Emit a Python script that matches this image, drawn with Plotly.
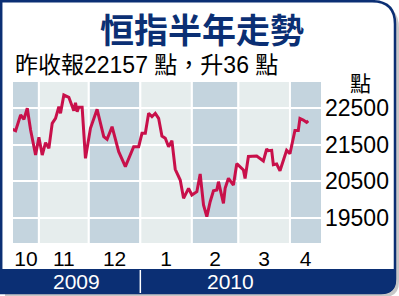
import plotly.graph_objects as go
import pandas as pd

# ---------------- data ----------------
dates = [
    "2009-10-16", "2009-10-18", "2009-10-21", "2009-10-23", "2009-10-25", "2009-10-27", "2009-10-30",
    "2009-11-01", "2009-11-03", "2009-11-05", "2009-11-07", "2009-11-09", "2009-11-11", "2009-11-13",
    "2009-11-14", "2009-11-16", "2009-11-19", "2009-11-22", "2009-11-23", "2009-11-24", "2009-11-25",
    "2009-11-27", "2009-11-29", "2009-12-02", "2009-12-06", "2009-12-10", "2009-12-12", "2009-12-15",
    "2009-12-19", "2009-12-23", "2009-12-28", "2009-12-31", "2010-01-02", "2010-01-04", "2010-01-06",
    "2010-01-08", "2010-01-10", "2010-01-12", "2010-01-14", "2010-01-16", "2010-01-18", "2010-01-20",
    "2010-01-22", "2010-01-25", "2010-01-27", "2010-01-30", "2010-02-01", "2010-02-04", "2010-02-06",
    "2010-02-08", "2010-02-10", "2010-02-12", "2010-02-14", "2010-02-16", "2010-02-17", "2010-02-20",
    "2010-02-21", "2010-02-23", "2010-02-26", "2010-02-28", "2010-03-04", "2010-03-05", "2010-03-07",
    "2010-03-12", "2010-03-16", "2010-03-18", "2010-03-19", "2010-03-21", "2010-03-22", "2010-03-24",
    "2010-03-26", "2010-03-30", "2010-04-01", "2010-04-04", "2010-04-06", "2010-04-07", "2010-04-09",
    "2010-04-11", "2010-04-12",
]
hsi = [
    21925, 21886, 22316, 22199, 22500, 21905, 21220,
    21705, 21220, 21557, 21404, 22089, 22226, 22544,
    22363, 22864, 22801, 22434, 22653, 22407, 22527,
    22527, 21130, 21952, 22473, 21722, 21651, 21996,
    21311, 20900, 21448, 21448, 21815, 21815, 22363,
    22270, 22363, 22226, 21741, 21678, 21448, 21612,
    20829, 20535, 20034, 20308, 20124, 20215, 20700,
    19850, 19530, 19941, 20242, 20262, 20489, 19897,
    20308, 20582, 20398, 20982, 20809, 20577, 21179,
    21193, 21056, 21385, 21338, 21349, 20955, 20974,
    20787, 21349, 21259, 21892, 21892, 22221, 22179,
    22116, 22157,
]
month_starts = ["2009-10-01", "2009-11-01", "2009-12-01", "2010-01-01",
                "2010-02-01", "2010-03-01", "2010-04-01", "2010-05-01"]
month_labels = ["10", "11", "12", "1", "2", "3", "4"]
year_labels = ["2009", "2010"]
year_starts = ["2009-10-01", "2010-01-01", "2011-01-01"]
y_ticks = [19500, 20500, 21500, 22500]
title_text = "恒指半年走勢"
subtitle_text = "昨收報22157 點，升36 點"
unit_text = "點"

# ---------------- geometry helpers ----------------
W, H = 399, 296
ML, MR, MT, MB = 13, 78, 81, 52
PW, PH = W - ML - MR, H - MT - MB
x_range = [pd.Timestamp("2009-10-16 10:00"), pd.Timestamp("2010-04-19 16:00")]
y_range = [18782, 23248]


def X(px):
    return (px - ML) / PW


def Y(py):
    return (H - MB - py) / PH


NAVY = "#0b2f74"
DARK = "#c4d4de"
LIGHT = "#e6eded"
LINE = "#c8104a"
FONT = "Liberation Sans, Arial, Noto Sans CJK TC, sans-serif"
CJK = "Noto Sans CJK TC, sans-serif"

fig = go.Figure()
fig.add_trace(go.Scatter(x=pd.to_datetime(dates), y=hsi, mode="lines",
                         line=dict(color=LINE, width=3), hoverinfo="skip"))

shapes = []

# shadow
shadow = (f"M{X(5)},{Y(5)} L{X(376)},{Y(5)} Q{X(399)},{Y(5)} {X(399)},{Y(28)} "
          f"L{X(399)},{Y(282)} Q{X(399)},{Y(297)} {X(384)},{Y(297)} L{X(5)},{Y(297)} Z")
shapes.append(dict(type="path", xref="paper", yref="paper", path=shadow,
                   fillcolor="rgba(0,0,0,0.22)", line=dict(width=0), layer="below"))
frame = (f"M{X(1.2)},{Y(1.2)} L{X(372)},{Y(1.2)} Q{X(395)},{Y(1.2)} {X(395)},{Y(24)} "
         f"L{X(395)},{Y(279)} Q{X(395)},{Y(293)} {X(381)},{Y(293)} L{X(1.2)},{Y(293)} Z")
shapes.append(dict(type="path", xref="paper", yref="paper", path=frame,
                   fillcolor="white", line=dict(width=2.5, color=NAVY), layer="below"))
bar = (f"M{X(0)},{Y(269)} L{X(396)},{Y(269)} L{X(396)},{Y(279)} "
       f"Q{X(396)},{Y(294)} {X(381)},{Y(294)} L{X(0)},{Y(294)} Z")
shapes.append(dict(type="path", xref="paper", yref="paper", path=bar,
                   fillcolor=NAVY, line=dict(width=0), layer="below"))

# month bands
ms = pd.to_datetime(month_starts)
for i in range(len(ms) - 1):
    shapes.append(dict(type="rect", xref="x", yref="paper", x0=ms[i], x1=ms[i + 1], y0=0, y1=1,
                       fillcolor=DARK if i % 2 == 0 else LIGHT,
                       line=dict(color="white", width=2), layer="below"))

# year divider
ys = pd.to_datetime(year_starts)
shapes.append(dict(type="line", xref="x", yref="paper", x0=ys[1], x1=ys[1], y0=Y(270), y1=Y(293),
                   line=dict(color="white", width=1.5), layer="above"))

# tick positions (midpoints of visible month spans)
mids = []
for i in range(len(ms) - 1):
    a = max(ms[i], x_range[0])
    b = min(ms[i + 1], x_range[1])
    mids.append(a + (b - a) / 2)

annotations = []
for i, lab in enumerate(year_labels):
    a = max(ys[i], x_range[0])
    b = min(ys[i + 1], x_range[1])
    annotations.append(dict(x=a + (b - a) / 2, y=Y(281.5), xref="x", yref="paper", text=lab,
                            showarrow=False, font=dict(family=FONT, size=21, color="white"),
                            xanchor="center", yanchor="middle"))

annotations.append(dict(x=X(202), y=Y(28), xref="paper", yref="paper", text=f"<b>{title_text}</b>",
                        showarrow=False, font=dict(family=CJK, size=34, color=NAVY),
                        xanchor="center", yanchor="middle"))
annotations.append(dict(x=X(13), y=Y(65), xref="paper", yref="paper", text=subtitle_text,
                        showarrow=False, font=dict(family=FONT, size=23, color="black"),
                        xanchor="left", yanchor="middle"))
annotations.append(dict(x=X(360), y=Y(82), xref="paper", yref="paper", text=unit_text,
                        showarrow=False, font=dict(family=CJK, size=21, color="black"),
                        xanchor="center", yanchor="middle"))

fig.update_layout(
    width=W, height=H,
    margin=dict(l=ML, r=MR, t=MT, b=MB, pad=0),
    paper_bgcolor="white", plot_bgcolor="rgba(0,0,0,0)",
    showlegend=False,
    shapes=shapes,
    annotations=annotations,
    xaxis=dict(range=x_range, type="date", tickmode="array", tickvals=mids, ticktext=month_labels,
               showgrid=False, zeroline=False, showline=False, ticks="", automargin=False,
               tickfont=dict(family=FONT, size=21, color="black")),
    yaxis=dict(range=y_range, side="right", tickmode="array", tickvals=y_ticks,
               ticktext=[str(v) for v in y_ticks],
               showgrid=True, gridcolor="white", gridwidth=2, zeroline=False, showline=False,
               ticks="", automargin=False, ticklabelstandoff=3,
               tickfont=dict(family=FONT, size=23, color="black")),
)

fig.write_html("out.html")
